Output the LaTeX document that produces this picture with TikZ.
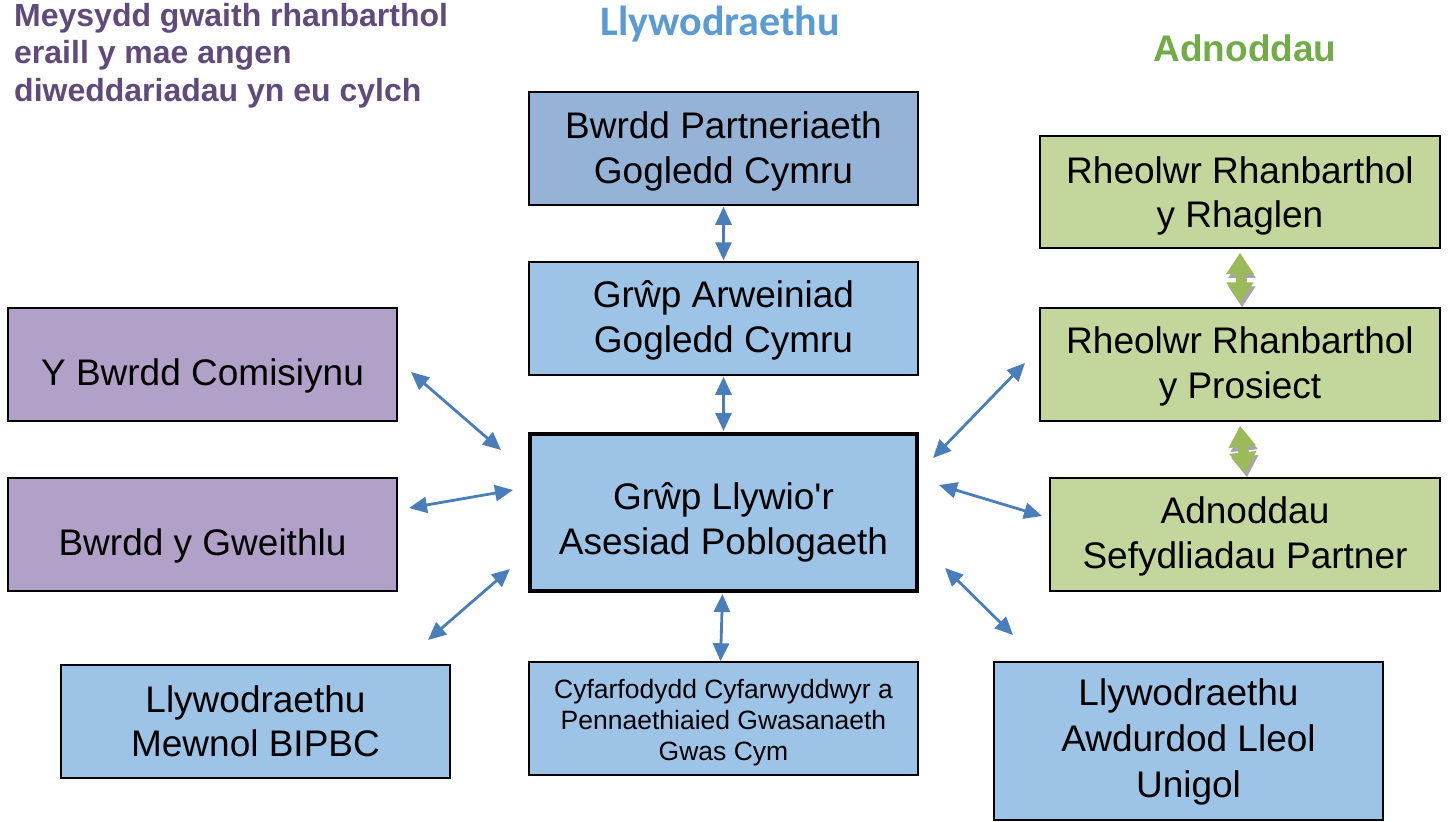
\documentclass[tikz,border=0pt]{standalone}
\usepackage{fontspec}
\setmainfont{Liberation Sans}
\newfontfamily\carlito{Carlito}
\usetikzlibrary{arrows.meta}
\definecolor{bluedark}{HTML}{95B3D7}
\definecolor{bluelight}{HTML}{9DC3E6}
\definecolor{purplebox}{HTML}{B1A0C7}
\definecolor{greenbox}{HTML}{C3D69B}
\definecolor{purplehead}{HTML}{604A7B}
\definecolor{bluehead}{HTML}{5B9BD5}
\definecolor{greenhead}{HTML}{70AD47}
\definecolor{arrowblue}{HTML}{4A7EBB}
\definecolor{arrowgreen}{HTML}{9BBB59}
\tikzset{
  box/.style={draw=black, line width=1.5pt, inner sep=0pt},
  boxtext/.style={inner sep=0pt, align=center, font=\fontsize{37}{44.5}\selectfont},
  smalltext/.style={boxtext, font=\fontsize{26.5}{31}\selectfont},
  barrow/.style={draw=arrowblue, line width=2.8pt, {Triangle[length=18pt,width=16pt]}-{Triangle[length=18pt,width=16pt]}},
  garrow/.style={draw=arrowgreen, line width=9pt, {Triangle[length=21pt,width=26pt]}-{Triangle[length=21pt,width=26pt]}},
  gshadow/.style={draw=gray!70, line width=9pt, {Triangle[length=21pt,width=26pt]}-{Triangle[length=21pt,width=26pt]}},
}
% name, x1,y1,x2,y2, fill, text shift, text
\newcommand{\boxat}[8]{%
  \node[box, fill=#6, minimum width={(#4-#2)*1pt}, minimum height={(#5-#3)*1pt}] (#1) at ({(#2+#4)/2},{(#3+#5)/2}) {};
  \node[boxtext] (#1-t) at ([yshift=-#7pt]#1.center) {#8};}
\begin{document}
\begin{tikzpicture}[x=1pt,y=-1pt]
\useasboundingbox (0,0) rectangle (1449,822);
% headings
\node[anchor=north west, align=left, text=purplehead, font=\fontsize{32}{37.5}\selectfont\bfseries, inner sep=0pt] (hpurple) at (14,3) {Meysydd gwaith rhanbarthol\\eraill y mae angen\\diweddariadau yn eu cylch};
\node[text=bluehead, font=\fontsize{42}{48}\selectfont\carlito\bfseries, inner sep=0pt] (hblue) at (720,24) {Llywodraethu};
\node[text=greenhead, font=\fontsize{37}{44}\selectfont\bfseries, inner sep=0pt] (hgreen) at (1245,48) {Adnoddau};
% boxes
\boxat{bpgc}{529}{92}{918}{205}{bluedark}{3}{Bwrdd Partneriaeth\\Gogledd Cymru}
\boxat{gagc}{529}{262}{918}{375}{bluelight}{2}{Grŵp Arweiniad\\Gogledd Cymru}
\node[box, line width=4pt, fill=bluelight, minimum width=387pt, minimum height=157pt] (central) at (723.5,512.5) {};
\node[boxtext] (central-t) at ([yshift=-10pt]central.center) {Grŵp Llywio\textquotesingle r\\Asesiad Poblogaeth};
\node[box, fill=bluelight, minimum width=389pt, minimum height=113pt] (cyf) at (723.5,718.5) {};
\node[smalltext] (cyf-t) at ([yshift=-4pt]cyf.center) {Cyfarfodydd Cyfarwyddwyr a\\Pennaethiaied Gwasanaeth\\Gwas Cym};
\boxat{comis}{8}{308}{397}{421}{purplebox}{11}{Y Bwrdd Comisiynu}
\boxat{gweith}{8}{478}{397}{591}{purplebox}{11}{Bwrdd y Gweithlu}
\boxat{bipbc}{61}{665}{450}{778}{bluelight}{0}{Llywodraethu\\Mewnol BIPBC}
\boxat{rhaglen}{1040}{136}{1440}{248}{greenbox}{4}{Rheolwr Rhanbarthol\\y Rhaglen}
\boxat{prosiect}{1040}{308}{1440}{421}{greenbox}{2}{Rheolwr Rhanbarthol\\y Prosiect}
\boxat{adnodd}{1050}{478}{1440}{591}{greenbox}{2}{Adnoddau\\Sefydliadau Partner}
\node[box, fill=bluelight, minimum width=389pt, minimum height=158pt] (awdur) at (1188.5,741) {};
\node[boxtext, font=\fontsize{37}{46}\selectfont] (awdur-t) at ([yshift=-1pt]awdur.center) {Llywodraethu\\Awdurdod Lleol\\Unigol};
% arrow end coordinates
\coordinate (c1a) at (411,372); \coordinate (c1b) at (501,450);
\coordinate (c2a) at (409,508); \coordinate (c2b) at (513,490);
\coordinate (c3a) at (428,640); \coordinate (c3b) at (510,569);
\coordinate (c4a) at (1025,363); \coordinate (c4b) at (933,458);
\coordinate (c5a) at (939,485); \coordinate (c5b) at (1042,516);
\coordinate (c6a) at (945,568); \coordinate (c6b) at (1013,635);
% vertical blue arrows
\draw[barrow, shorten <=1pt, shorten >=1pt] (bpgc.south) -- (gagc.north);
\draw[barrow, shorten <=1pt, shorten >=1pt] (gagc.south) -- (central.north);
\draw[barrow, shorten <=1pt, shorten >=0pt] ([xshift=-1pt]central.south) -- ([xshift=-3pt]cyf.north);
% diagonal blue arrows
\draw[barrow] (c1a) -- (c1b);
\draw[barrow] (c2a) -- (c2b);
\draw[barrow] (c3a) -- (c3b);
\draw[barrow] (c4a) -- (c4b);
\draw[barrow] (c5a) -- (c5b);
\draw[barrow] (c6a) -- (c6b);
% green arrows
\draw[gshadow] ([xshift=2pt,yshift=-8pt]rhaglen.south) -- ([xshift=2pt,yshift=0pt]prosiect.north);
\draw[garrow] ([yshift=-4pt]rhaglen.south) -- ([yshift=4pt]prosiect.north);
\draw[gshadow] ([xshift=2pt,yshift=-8pt]prosiect.south) -- ([xshift=2pt,yshift=0pt]adnodd.north);
\draw[garrow] ([xshift=0pt,yshift=-4pt]prosiect.south) -- ([xshift=0pt,yshift=4pt]adnodd.north);
\end{tikzpicture}
\end{document}
